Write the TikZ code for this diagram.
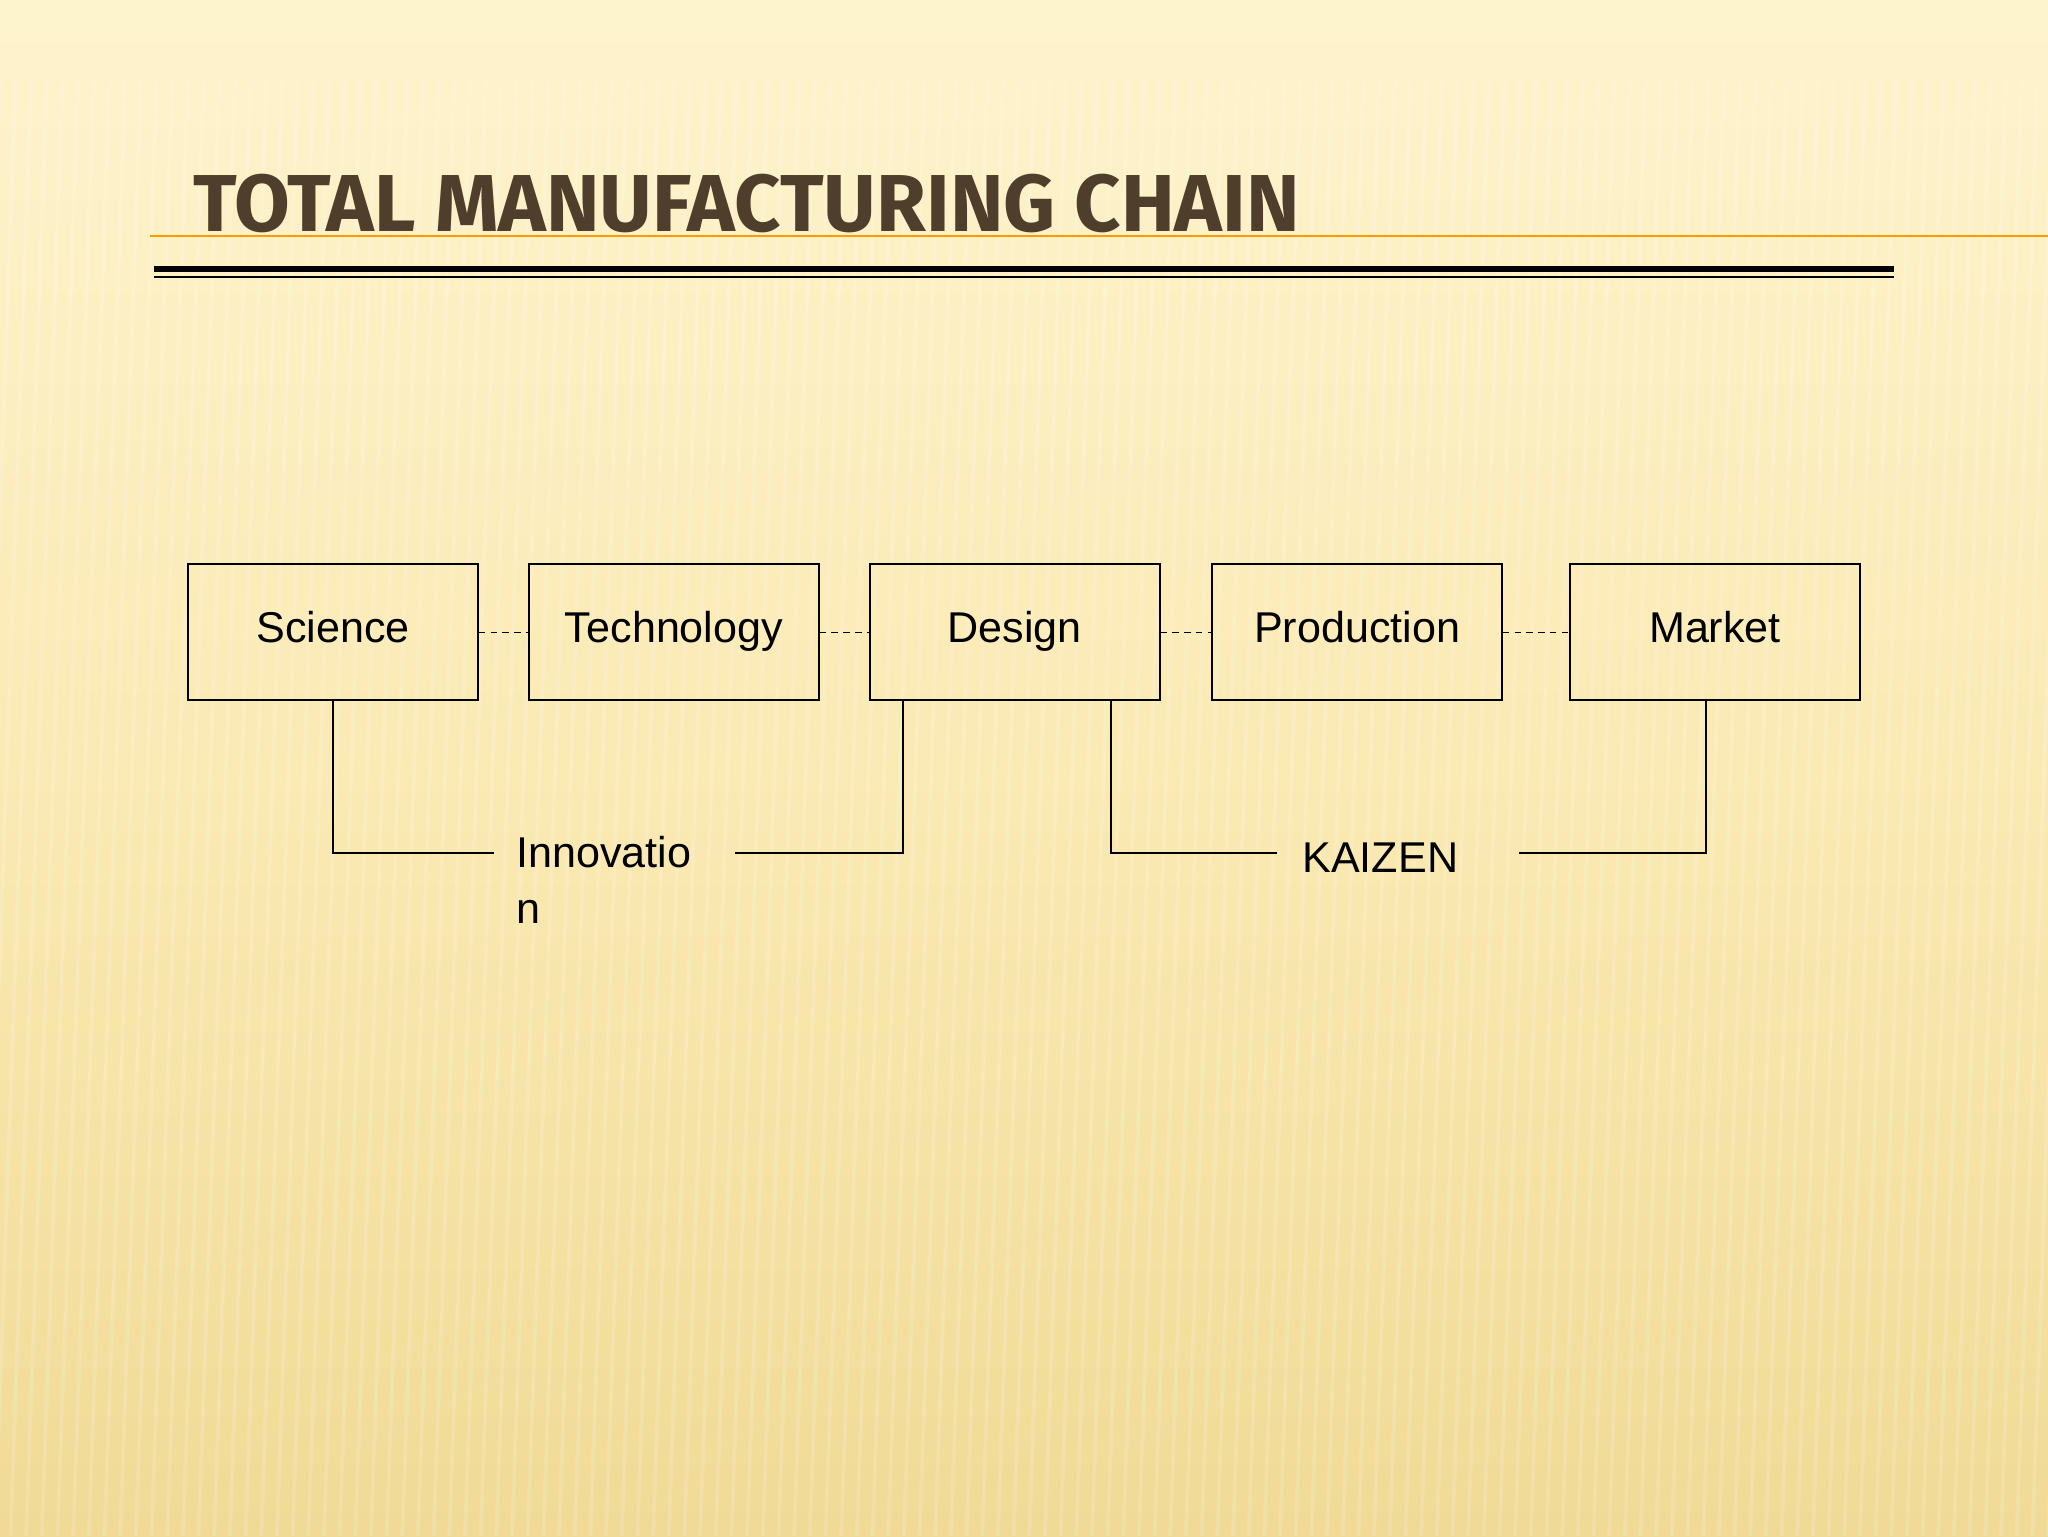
\documentclass[tikz,border=0pt]{standalone}
\usepackage{fontspec}
\setmainfont{Liberation Sans}
\newfontfamily\titlefont{Fira Sans}
\definecolor{bgtop}{RGB}{253,243,205}
\definecolor{bgmid}{RGB}{250,234,180}
\definecolor{bgbot}{RGB}{240,218,150}
\definecolor{titlec}{RGB}{80,62,44}
\begin{document}
\begin{tikzpicture}[x=1pt,y=-1pt,
 box/.style={draw=black,line width=1.2pt,minimum width=222pt,minimum height=104pt,inner sep=0pt,text height=23pt,text depth=7pt,font=\fontsize{33}{38}\selectfont},
 lbl/.style={anchor=west,inner sep=0pt,font=\fontsize{33}{43}\selectfont,align=left},
 conn/.style={draw=black,line width=1.2pt},
 dashln/.style={draw=black,line width=1pt,dash pattern=on 5pt off 4pt}]
\useasboundingbox (0,0) rectangle (1568,1176);
\shade[top color=bgtop,bottom color=bgbot,middle color=bgmid] (0,0) rectangle (1568,1176);
\foreach \i in {0,12,...,1608}{\draw[white,opacity=0.15,line width=3pt] (\i,60) -- (\i-40,1176);}
% title
\node[anchor=base west,inner sep=0pt,text=titlec,font=\titlefont\fontsize{62}{70}\selectfont\bfseries] (title) at (148,177) {\resizebox{847pt}{!}{TOTAL MANUFACTURING CHAIN}};
\draw[orange!80!yellow,line width=1.5pt] (115,181) -- (1568,181);
\draw[black,line width=4pt] (118,206) -- (1450,206);
\draw[black,line width=1.5pt] (118,212) -- (1450,212);
% boxes
\node[box] (sci) at (255,484) {Science};
\node[box] (tech) at (516,484) {Technology};
\node[box] (des) at (777,484) {Design};
\node[box] (prod) at (1039,484) {Production};
\node[box] (mkt) at (1313,484) {Market};
\draw[dashln] (sci) -- (tech);
\draw[dashln] (tech) -- (des);
\draw[dashln] (des) -- (prod);
\draw[dashln] (prod) -- (mkt);
% labels
\node[lbl,anchor=north west] (inno) at (395,640) {Innovatio\\n};
\node[lbl] (kai) at (997,657) {KAIZEN};
\coordinate (a1) at (378,653); \coordinate (a2) at (563,653);
\coordinate (k1) at (978,653); \coordinate (k2) at (1163,653);
\draw[conn] (sci.south) |- (a1);
\draw[conn] (a2) -| ([xshift=26pt]des.south west);
\draw[conn] ([xshift=-38pt]des.south east) |- (k1);
\draw[conn] (k2) -| ([xshift=-7pt]mkt.south);
\end{tikzpicture}
\end{document}
